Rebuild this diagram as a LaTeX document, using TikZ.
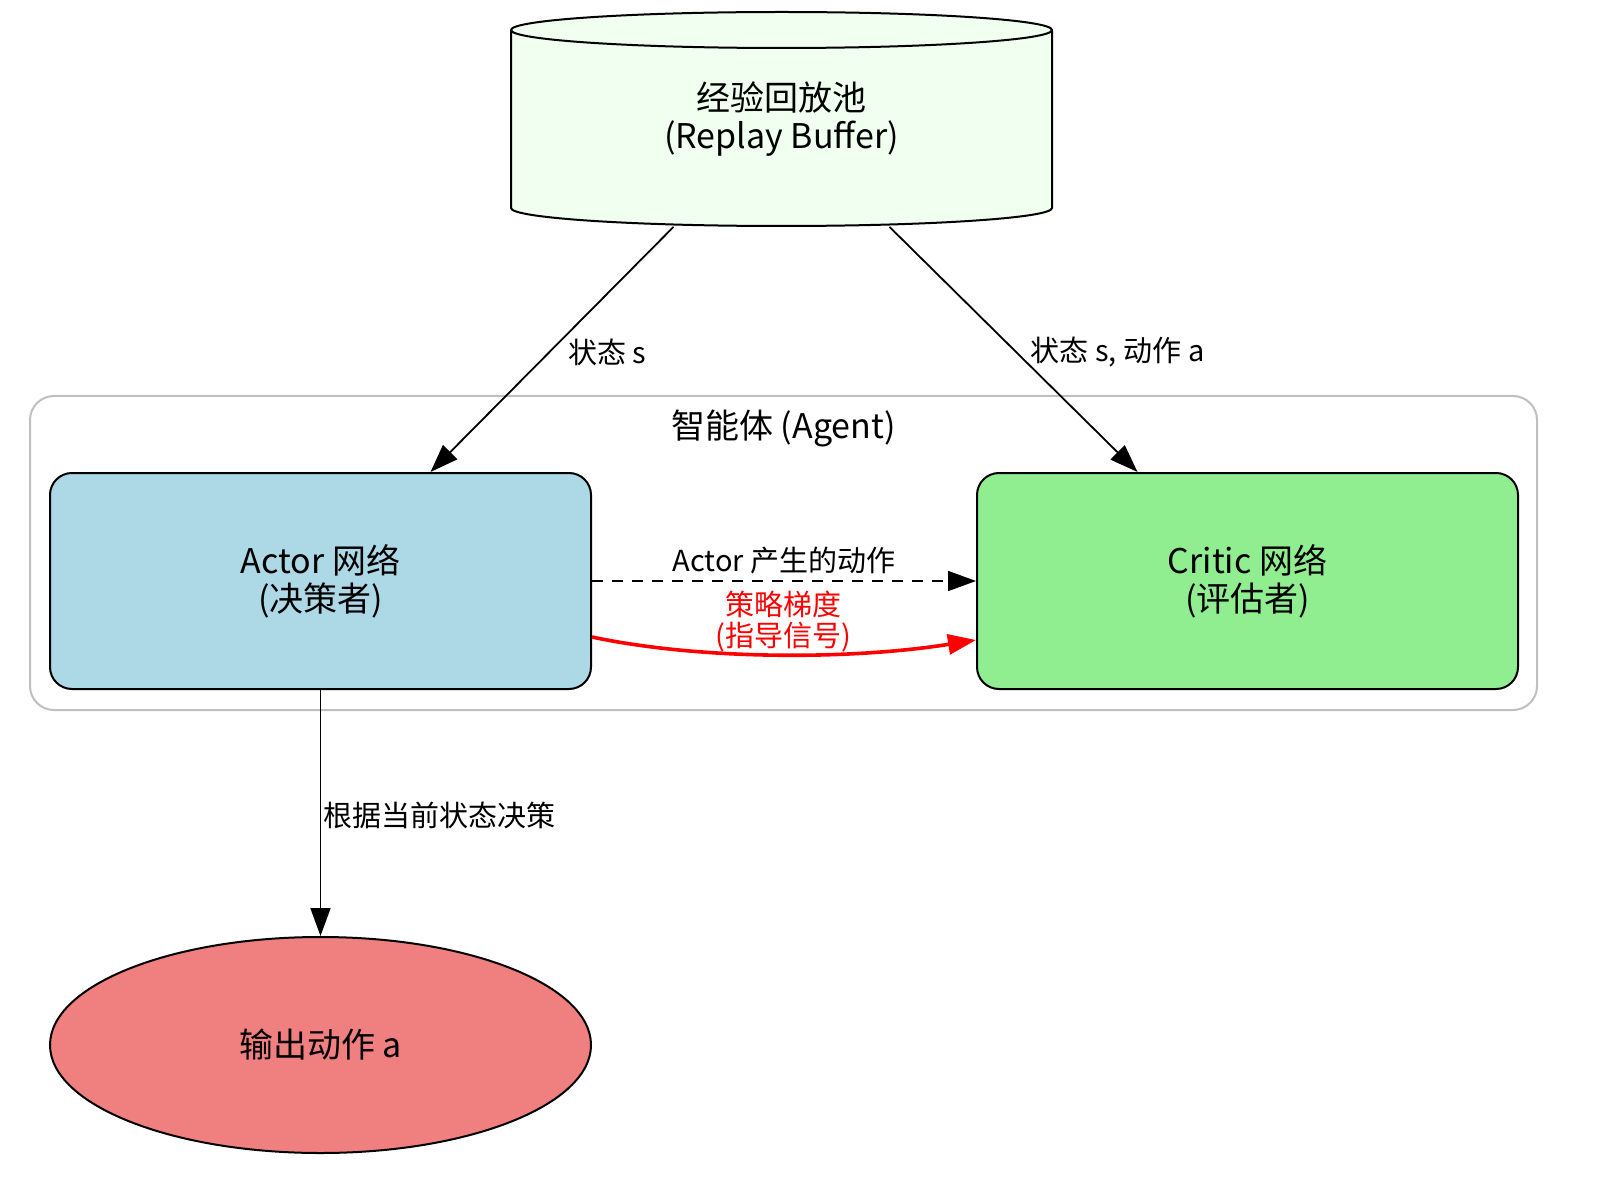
\documentclass[tikz,border=0pt]{standalone}
\usepackage{fontspec}
\setmainfont{Noto Sans CJK SC}
\usetikzlibrary{arrows.meta,shapes.geometric}
\definecolor{buffergreen}{HTML}{F0FFF0}
\definecolor{actorblue}{HTML}{ADD8E6}
\definecolor{criticgreen}{HTML}{90EE90}
\definecolor{outputred}{HTML}{F08080}
\definecolor{clustergray}{HTML}{BFBFBF}
\begin{document}
\begin{tikzpicture}[
			x=0.5pt, y=-0.5pt,
			netbox/.style={rectangle,rounded corners=11pt,draw,line width=1pt,minimum width=270.5pt,minimum height=108pt,align=center,font=\fontsize{17}{19}\selectfont},
			flow/.style={line width=0.9pt,-{Triangle[length=14pt,width=10pt]}},
			lbl/.style={font=\fontsize{14.5}{15.5}\selectfont,inner sep=1pt,align=center}
		]
		\useasboundingbox (0,0) rectangle (1600,1187);
		\node[rectangle,rounded corners=12pt,draw=clustergray,line width=1pt,minimum width=753.5pt,minimum height=157pt] (agent) at (783.5,553) {};
		\node[font=\fontsize{17}{19}\selectfont] (agenttitle) at (783.5,428) {智能体 (Agent)};
		\filldraw[fill=buffergreen,line width=1pt] (511,30) -- (511,208)
			arc[start angle=180,end angle=0,x radius=270.5,y radius=18] -- (1052,30)
			arc[start angle=0,end angle=-180,x radius=270.5,y radius=18] -- cycle;
		\draw[line width=1pt] (511,30) arc[start angle=180,end angle=0,x radius=270.5,y radius=18];
		\node[minimum width=270.5pt,minimum height=107pt,align=center,font=\fontsize{17}{19}\selectfont] (buffer) at (781.5,119.5) {经验回放池\\(Replay Buffer)};
		\node[netbox,fill=actorblue] (actor) at (320.5,581) {Actor 网络\\(决策者)};
		\node[netbox,fill=criticgreen] (critic) at (1247.5,581) {Critic 网络\\(评估者)};
		\node[ellipse,draw,line width=1pt,fill=outputred,inner sep=0pt,minimum width=270.5pt,minimum height=108pt,font=\fontsize{17}{19}\selectfont] (output) at (320.5,1045) {输出动作 a};
		\draw[flow] ([xshift=-54pt]buffer.south) -- node[lbl,right=8pt,pos=0.51] {状态 s} ([xshift=55pt]actor.north);
		\draw[flow] ([xshift=54pt]buffer.south) -- node[lbl,right=6pt,pos=0.51] {状态 s, 动作 a} ([xshift=-55pt]critic.north);
		\draw[flow,dashed,dash pattern=on 5.5pt off 4.5pt] (actor.east) -- node[lbl,above=2pt] {Actor 产生的动作} (critic.west);
		\draw[flow,red,line width=1.8pt] ([yshift=-28pt]actor.east) .. controls (700,660) and (850,660) .. ([yshift=-29.5pt]critic.west);
		\node[lbl,text=red] (gradlabel) at (783,622) {策略梯度\\(指导信号)};
		\draw[flow] (actor.south) -- node[lbl,right=0pt,pos=0.51] {根据当前状态决策} (output.north);
	\end{tikzpicture}
\end{document}
